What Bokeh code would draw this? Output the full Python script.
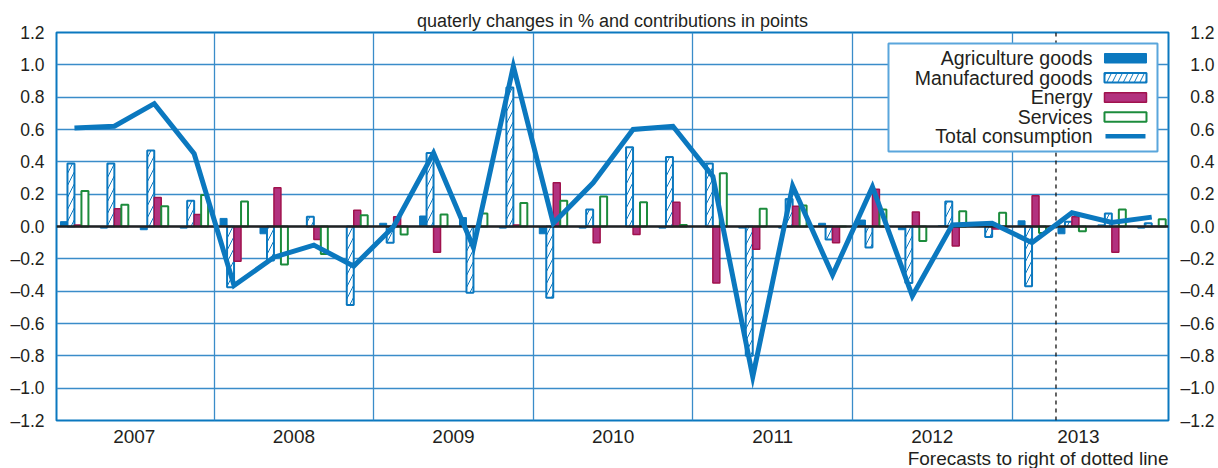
from bokeh.plotting import figure
from bokeh.models import (Range1d, LinearAxis, FixedTicker, CustomJSTickFormatter,
                          Span, BoxAnnotation, Label, Title)
from bokeh.embed import file_html
from bokeh.resources import INLINE

# ---------------- data ----------------
years = ["2007", "2008", "2009", "2010", "2011", "2012", "2013"]
quarters = [f"{y} Q{q}" for y in years for q in range(1, 5)]

agriculture = [0.03, -0.01, -0.02, -0.01, 0.05, -0.045, 0.0, 0.0,
               0.02, 0.065, 0.055, -0.01, -0.045, -0.01, 0.0, -0.01,
               0.0, -0.01, -0.01, 0.02, 0.04, -0.02, 0.005, 0.0,
               0.035, -0.045, 0.01, -0.01]
manufactured = [0.39, 0.39, 0.47, 0.16, -0.375, -0.21, 0.06, -0.485,
                -0.10, 0.455, -0.41, 0.86, -0.44, 0.105, 0.49, 0.43,
                0.39, -0.80, 0.17, -0.08, -0.13, -0.35, 0.155, -0.065,
                -0.37, 0.03, 0.08, 0.02]
energy = [0.01, 0.11, 0.18, 0.075, -0.215, 0.24, -0.08, 0.10,
          0.06, -0.16, 0.0, 0.01, 0.27, -0.10, -0.05, 0.15,
          -0.35, -0.14, 0.125, -0.10, 0.23, 0.09, -0.12, -0.015,
          0.19, 0.06, -0.16, 0.0]
services = [0.22, 0.135, 0.125, 0.195, 0.155, -0.235, -0.17, 0.07,
            -0.05, 0.075, 0.08, 0.145, 0.16, 0.185, 0.15, 0.01,
            0.33, 0.11, 0.13, 0.0, 0.105, -0.09, 0.095, 0.085,
            -0.04, -0.03, 0.105, 0.045]
total = [0.61, 0.62, 0.76, 0.45, -0.365, -0.19, -0.115, -0.245,
         0.0, 0.455, -0.13, 0.99, 0.02, 0.27, 0.60, 0.62,
         0.31, -0.93, 0.25, -0.30, 0.245, -0.43, 0.01, 0.02,
         -0.10, 0.085, 0.025, 0.058]
series_names = ["Agriculture goods", "Manufactured goods", "Energy",
                "Services", "Total consumption"]
y_ticks = [-1.2, -1.0, -0.8, -0.6, -0.4, -0.2, 0.0, 0.2, 0.4, 0.6, 0.8, 1.0, 1.2]
forecast_start = 24.6      # dotted line, in quarter units
title_text = "quaterly changes in % and contributions in points"
note_text = "Forecasts to right of dotted line"

# ---------------- style ----------------
BLUE = "#0b78bf"
GRID = "#3a8cc9"
MAGENTA = "#b2327f"
CRIMSON = "#a0124d"
GREEN = "#1c8c3c"
TXT = "#231f20"
FONT = "Liberation Sans"

x = list(range(len(quarters)))
W = 0.175

p = figure(frame_width=1112, frame_height=388,
           x_range=Range1d(-0.45, 27.42), y_range=Range1d(-1.2, 1.2),
           output_backend="svg", toolbar_location=None,
           min_border_left=56, min_border_right=50, min_border_top=32,
           min_border_bottom=0)
p.background_fill_color = "white"
p.border_fill_color = "white"
p.outline_line_color = BLUE
p.outline_line_width = 2

p.title.text = title_text
p.title.align = "center"
p.title.text_font = FONT
p.title.text_font_size = "18px"
p.title.text_font_style = "normal"
p.title.text_color = TXT
p.title.standoff = 4

# grids
p.ygrid.ticker = FixedTicker(ticks=y_ticks)
p.ygrid.grid_line_color = GRID
p.ygrid.grid_line_width = 1.3
p.xgrid.ticker = FixedTicker(ticks=[4 * k + 3.5 for k in range(len(years) - 1)])
p.xgrid.grid_line_color = GRID
p.xgrid.grid_line_width = 1.3

# x axis (years)
year_centres = [4 * k + 1.5 for k in range(len(years) - 1)] + [25.16]
p.xaxis.ticker = FixedTicker(ticks=year_centres)
p.xaxis.formatter = CustomJSTickFormatter(
    args=dict(labels=years), code="return labels[Math.round((tick - 1.5) / 4)];")

yfmt_left = CustomJSTickFormatter(
    code="const s = Math.abs(tick).toFixed(1); return tick < -1e-9 ? '\u2013' + s : s;")
yfmt_right = CustomJSTickFormatter(
    code="const s = Math.abs(tick).toFixed(1); return tick < -1e-9 ? '\u2013' + s : '\u2007' + s;")
p.yaxis.ticker = FixedTicker(ticks=y_ticks)
p.yaxis.formatter = yfmt_left
right_axis = LinearAxis(ticker=FixedTicker(ticks=y_ticks), formatter=yfmt_right)
p.add_layout(right_axis, "right")

for ax in p.xaxis + p.yaxis + [right_axis]:
    ax.axis_line_color = None
    ax.major_tick_line_color = None
    ax.minor_tick_line_color = None
    ax.major_tick_out = 0
    ax.major_tick_in = 0
    ax.major_label_text_font = FONT
    ax.major_label_text_color = TXT
p.xaxis.major_label_text_font_size = "19px"
p.xaxis.major_label_standoff = 9
p.yaxis.major_label_text_font_size = "17.5px"
p.yaxis.major_label_standoff = 12
right_axis.major_label_text_font_size = "17.5px"
right_axis.major_label_standoff = 12

note = Title(text=note_text, align="right", text_font=FONT, text_font_size="19px",
             text_font_style="normal", text_color=TXT, standoff=0)
p.add_layout(note, "below")

# bars
offs = [-1.5 * W, -0.5 * W, 0.5 * W, 1.5 * W]
p.vbar(x=[v + offs[0] for v in x], top=agriculture, bottom=0, width=W,
       fill_color=BLUE, line_color=BLUE, line_width=1)
p.vbar(x=[v + offs[1] for v in x], top=manufactured, bottom=0, width=W,
       fill_color="white", line_color=BLUE, line_width=2,
       hatch_pattern="/", hatch_color=BLUE, hatch_scale=12, hatch_weight=1)
p.vbar(x=[v + offs[2] for v in x], top=energy, bottom=0, width=W,
       fill_color=MAGENTA, line_color=CRIMSON, line_width=1.5)
p.vbar(x=[v + offs[3] for v in x], top=services, bottom=0, width=W,
       fill_color="white", line_color=GREEN, line_width=2)

p.add_layout(Span(location=0, dimension="width", line_color="#222222", line_width=2.5))
p.add_layout(Span(location=forecast_start, dimension="height", line_color="#111111",
                  line_width=1.3, line_dash="4 4"))

p.line(x, total, line_color=BLUE, line_width=5, line_join="miter", level="overlay")

# ---------------- legend (label left of key, like the original) ----------------
def sx(px):
    return -0.45 + (px - 56) / 39.9


def sy(py):
    return 1.2 - (py - 32) * 2.4 / 388


p.add_layout(BoxAnnotation(left=sx(888), right=sx(1157), top=sy(43), bottom=sy(151),
                           fill_color="white", fill_alpha=1, line_color="#5aa6dc",
                           line_alpha=1, line_width=2, level="overlay"))
row_mid = [57.5 + 19.6 * i for i in range(5)]
for name, ym in zip(series_names, row_mid):
    p.add_layout(Label(x=sx(1092), y=sy(ym), text=name, text_align="right",
                       text_baseline="middle", text_font=FONT, text_font_size="19.5px",
                       text_color=TXT, level="overlay"))
key_styles = [
    dict(fill_color=BLUE, line_color=BLUE, line_width=1),
    dict(fill_color="white", line_color=BLUE, line_width=2, hatch_pattern="/",
         hatch_color=BLUE, hatch_scale=11, hatch_weight=1),
    dict(fill_color=MAGENTA, line_color=CRIMSON, line_width=1.5),
    dict(fill_color="white", line_color=GREEN, line_width=2),
]
for ym, st in zip(row_mid[:4], key_styles):
    p.add_layout(BoxAnnotation(left=sx(1104), right=sx(1146), top=sy(ym - 4.5),
                               bottom=sy(ym + 5), fill_alpha=1, line_alpha=1,
                               level="overlay", **st))
p.add_layout(BoxAnnotation(left=sx(1105), right=sx(1145), top=sy(row_mid[4] - 2.5),
                           bottom=sy(row_mid[4] + 2), fill_color=BLUE, fill_alpha=1,
                           line_color=None, level="overlay"))

open("out.html", "w").write(file_html(p, INLINE))
